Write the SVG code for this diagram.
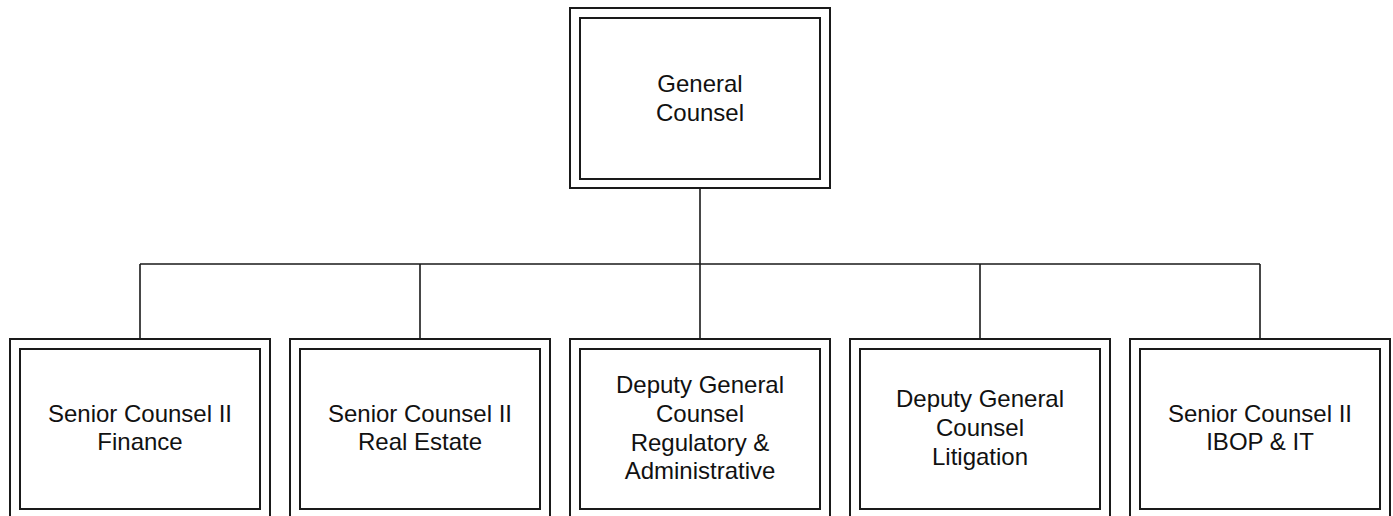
<svg xmlns="http://www.w3.org/2000/svg" width="1393" height="516" viewBox="0 0 1393 516">
<style>
.outer{fill:#fff;stroke:#1a1a1a;stroke-width:2}
.inner{fill:none;stroke:#1a1a1a;stroke-width:2}
.lbl{font-family:"Liberation Sans",Arial,sans-serif;font-size:24px;fill:#111;text-anchor:middle}
.conn{stroke:#1a1a1a;stroke-width:1.6;fill:none}
</style>
<rect width="1393" height="516" fill="#fff"/>
<g id="connectors">
<path class="conn" d="M700 188V264M140 264H1260M140 264V339M420 264V339M700 264V339M980 264V339M1260 264V339"/>
</g>
<g id="general-counsel">
<rect class="outer" x="570" y="8" width="260" height="180"/>
<rect class="inner" x="580" y="18" width="240" height="161"/>
<text class="lbl" x="700" y="92">General</text>
<text class="lbl" x="700" y="121">Counsel</text>
</g>
<g id="finance">
<rect class="outer" x="10" y="339" width="260" height="180"/>
<rect class="inner" x="20" y="349" width="240" height="160"/>
<text class="lbl" x="140" y="421.5">Senior Counsel II</text>
<text class="lbl" x="140" y="450.3">Finance</text>
</g>
<g id="real-estate">
<rect class="outer" x="290" y="339" width="260" height="180"/>
<rect class="inner" x="300" y="349" width="240" height="160"/>
<text class="lbl" x="420" y="421.5">Senior Counsel II</text>
<text class="lbl" x="420" y="450.3">Real Estate</text>
</g>
<g id="regulatory">
<rect class="outer" x="570" y="339" width="260" height="180"/>
<rect class="inner" x="580" y="349" width="240" height="160"/>
<text class="lbl" x="700" y="393">Deputy General</text>
<text class="lbl" x="700" y="421.8">Counsel</text>
<text class="lbl" x="700" y="450.6">Regulatory &amp;</text>
<text class="lbl" x="700" y="479.4">Administrative</text>
</g>
<g id="litigation">
<rect class="outer" x="850" y="339" width="260" height="180"/>
<rect class="inner" x="860" y="349" width="240" height="160"/>
<text class="lbl" x="980" y="407">Deputy General</text>
<text class="lbl" x="980" y="435.8">Counsel</text>
<text class="lbl" x="980" y="464.6">Litigation</text>
</g>
<g id="ibop-it">
<rect class="outer" x="1130" y="339" width="260" height="180"/>
<rect class="inner" x="1140" y="349" width="240" height="160"/>
<text class="lbl" x="1260" y="421.5">Senior Counsel II</text>
<text class="lbl" x="1260" y="450.3">IBOP &amp; IT</text>
</g>
</svg>
